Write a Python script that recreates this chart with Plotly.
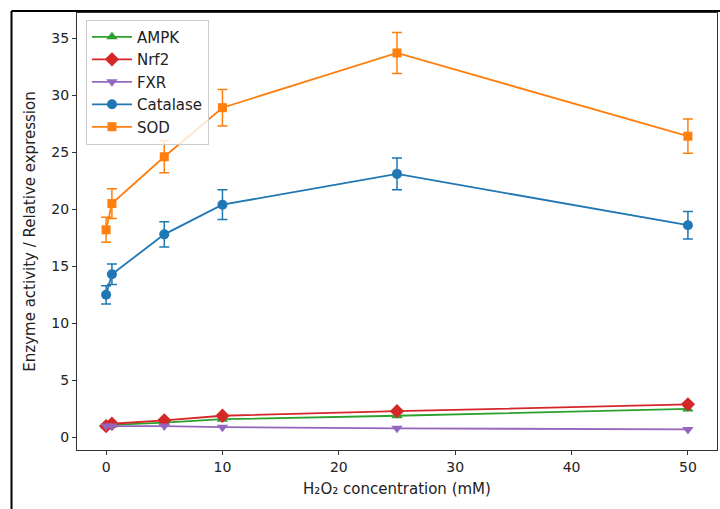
import plotly.graph_objects as go

conc = [0, 0.5, 5, 10, 25, 50]
ampk = [1.0, 1.1, 1.3, 1.6, 1.9, 2.5]
nrf2 = [1.0, 1.2, 1.5, 1.9, 2.3, 2.9]
fxr = [1.0, 1.0, 1.0, 0.9, 0.8, 0.7]
catalase = [12.5, 14.3, 17.8, 20.4, 23.1, 18.6]
catalase_err = [0.8, 0.9, 1.1, 1.3, 1.4, 1.2]
sod = [18.2, 20.5, 24.6, 28.9, 33.7, 26.4]
sod_err = [1.1, 1.3, 1.4, 1.6, 1.8, 1.5]

x_ticks = [0, 10, 20, 30, 40, 50]
y_ticks = [0, 5, 10, 15, 20, 25, 30, 35]

FONT = "DejaVu Sans"
fig = go.Figure()

def add_line(name, y, color, symbol, size, err=None):
    kw = {}
    if err is not None:
        kw["error_y"] = dict(type="data", array=err, visible=True, color=color,
                             thickness=1.5, width=5)
    fig.add_trace(go.Scatter(x=conc, y=y, name=name, mode="lines+markers",
                             line=dict(color=color, width=1.8),
                             marker=dict(color=color, symbol=symbol, size=size),
                             **kw))

add_line("AMPK", ampk, "#2ca02c", "triangle-up", 10)
add_line("Nrf2", nrf2, "#d62728", "diamond", 11)
add_line("FXR", fxr, "#9467bd", "triangle-down", 10)
add_line("Catalase", catalase, "#1f77b4", "circle", 10, catalase_err)
add_line("SOD", sod, "#ff7f0e", "square", 9, sod_err)

axis_common = dict(showline=True, mirror=True, linecolor="#333333", linewidth=1,
                   ticks="outside", ticklen=4, tickcolor="#333333", showgrid=False,
                   zeroline=False, tickfont=dict(family=FONT, size=14, color="#222222"))

fig.update_layout(
    width=720, height=509,
    margin=dict(l=77, r=3, t=13, b=59),
    paper_bgcolor="white", plot_bgcolor="white",
    font=dict(family=FONT, size=14, color="#222222"),
    xaxis=dict(range=[-2.5, 52.5], tickvals=x_ticks,
               title=dict(text="H₂O₂ concentration (mM)", font=dict(family=FONT, size=15), standoff=9),
               **axis_common),
    yaxis=dict(range=[-1.1, 37.2], tickvals=y_ticks,
               title=dict(text="Enzyme activity / Relative expression", font=dict(family=FONT, size=15), standoff=12),
               **axis_common),
    legend=dict(x=0.014, y=0.985, xanchor="left", yanchor="top",
                bgcolor="rgba(255,255,255,0.8)", bordercolor="#cccccc", borderwidth=1,
                font=dict(family=FONT, size=15), itemwidth=40),
    showlegend=True,
)

# outer figure frame (left and top edges)
fig.add_shape(type="line", xref="paper", yref="paper",
              x0=(11.5 - 77) / 640, x1=(11.5 - 77) / 640, y0=-59 / 437 - 0.01, y1=1 + 2 / 437,
              line=dict(color="black", width=2))
fig.add_shape(type="line", xref="paper", yref="paper",
              x0=(11.5 - 77) / 640, x1=1 + 4 / 640, y0=1 + 2 / 437, y1=1 + 2 / 437,
              line=dict(color="black", width=2))

fig.write_html("out.html")
